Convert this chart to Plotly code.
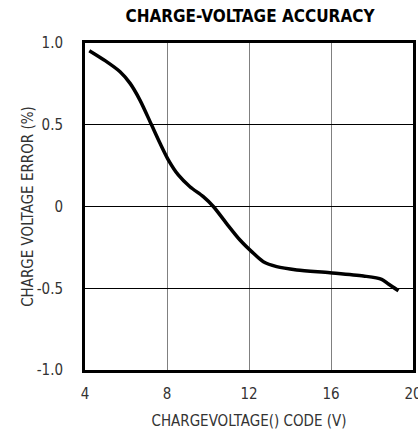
import plotly.graph_objects as go

x_vals = [4.21, 4.98, 5.71, 6.2, 6.68, 7.25, 7.66, 8.07, 8.55, 9.12, 9.77, 10.26, 10.9, 11.56,
          12.13, 12.7, 13.35, 14.33, 15.95, 17.58, 18.47, 18.8, 19.29]
y_vals = [0.953, 0.892, 0.824, 0.753, 0.651, 0.498, 0.387, 0.284, 0.193, 0.121, 0.06, 0.0,
          -0.103, -0.205, -0.276, -0.338, -0.368, -0.388, -0.405, -0.425, -0.445, -0.474, -0.515]
x_ticks = [4, 8, 12, 16, 20]
y_ticks = [1.0, 0.5, 0, -0.5, -1.0]
y_tick_text = ["1.0", "0.5", "0", "-0.5", "-1.0"]

FONT = "Liberation Sans Narrow, Arial Narrow, DejaVu Sans Condensed, sans-serif"

fig = go.Figure()
fig.add_trace(go.Scatter(x=x_vals, y=y_vals, mode="lines",
                         line=dict(color="black", width=3.5, shape="spline", smoothing=0.8),
                         showlegend=False, hoverinfo="skip"))

fig.update_layout(
    width=418, height=434,
    margin=dict(l=85, r=5, t=43, b=64),
    paper_bgcolor="white", plot_bgcolor="white",
    font=dict(family=FONT, color="#333", size=15),
    title=dict(text="<b>CHARGE-VOLTAGE ACCURACY</b>", x=0.598, xanchor="center",
               y=0.962, yanchor="middle", font=dict(family=FONT, size=17, color="black")),
    xaxis=dict(range=[4, 20], tickvals=x_ticks, showgrid=True, gridcolor="#808080", gridwidth=1,
               zeroline=False, showline=True, linecolor="black", linewidth=3, mirror=True,
               ticks="", ticklabelstandoff=8, automargin=False, ticklabeloverflow="allow",
               title=dict(text="CHARGEVOLTAGE() CODE (V)", font=dict(size=15), standoff=14)),
    yaxis=dict(range=[-1, 1], tickvals=y_ticks, ticktext=y_tick_text, showgrid=True,
               gridcolor="black", gridwidth=1, zeroline=False, showline=True, linecolor="black",
               linewidth=3, mirror=True, ticks="", ticklabelstandoff=16, automargin=False,
               ticklabeloverflow="allow",
               title=dict(text="CHARGE VOLTAGE ERROR (%)", font=dict(size=15), standoff=0)),
)

fig.write_html("out.html", config={"displayModeBar": False},
               post_script="document.body.style.margin='0';document.body.style.overflow='hidden';")
